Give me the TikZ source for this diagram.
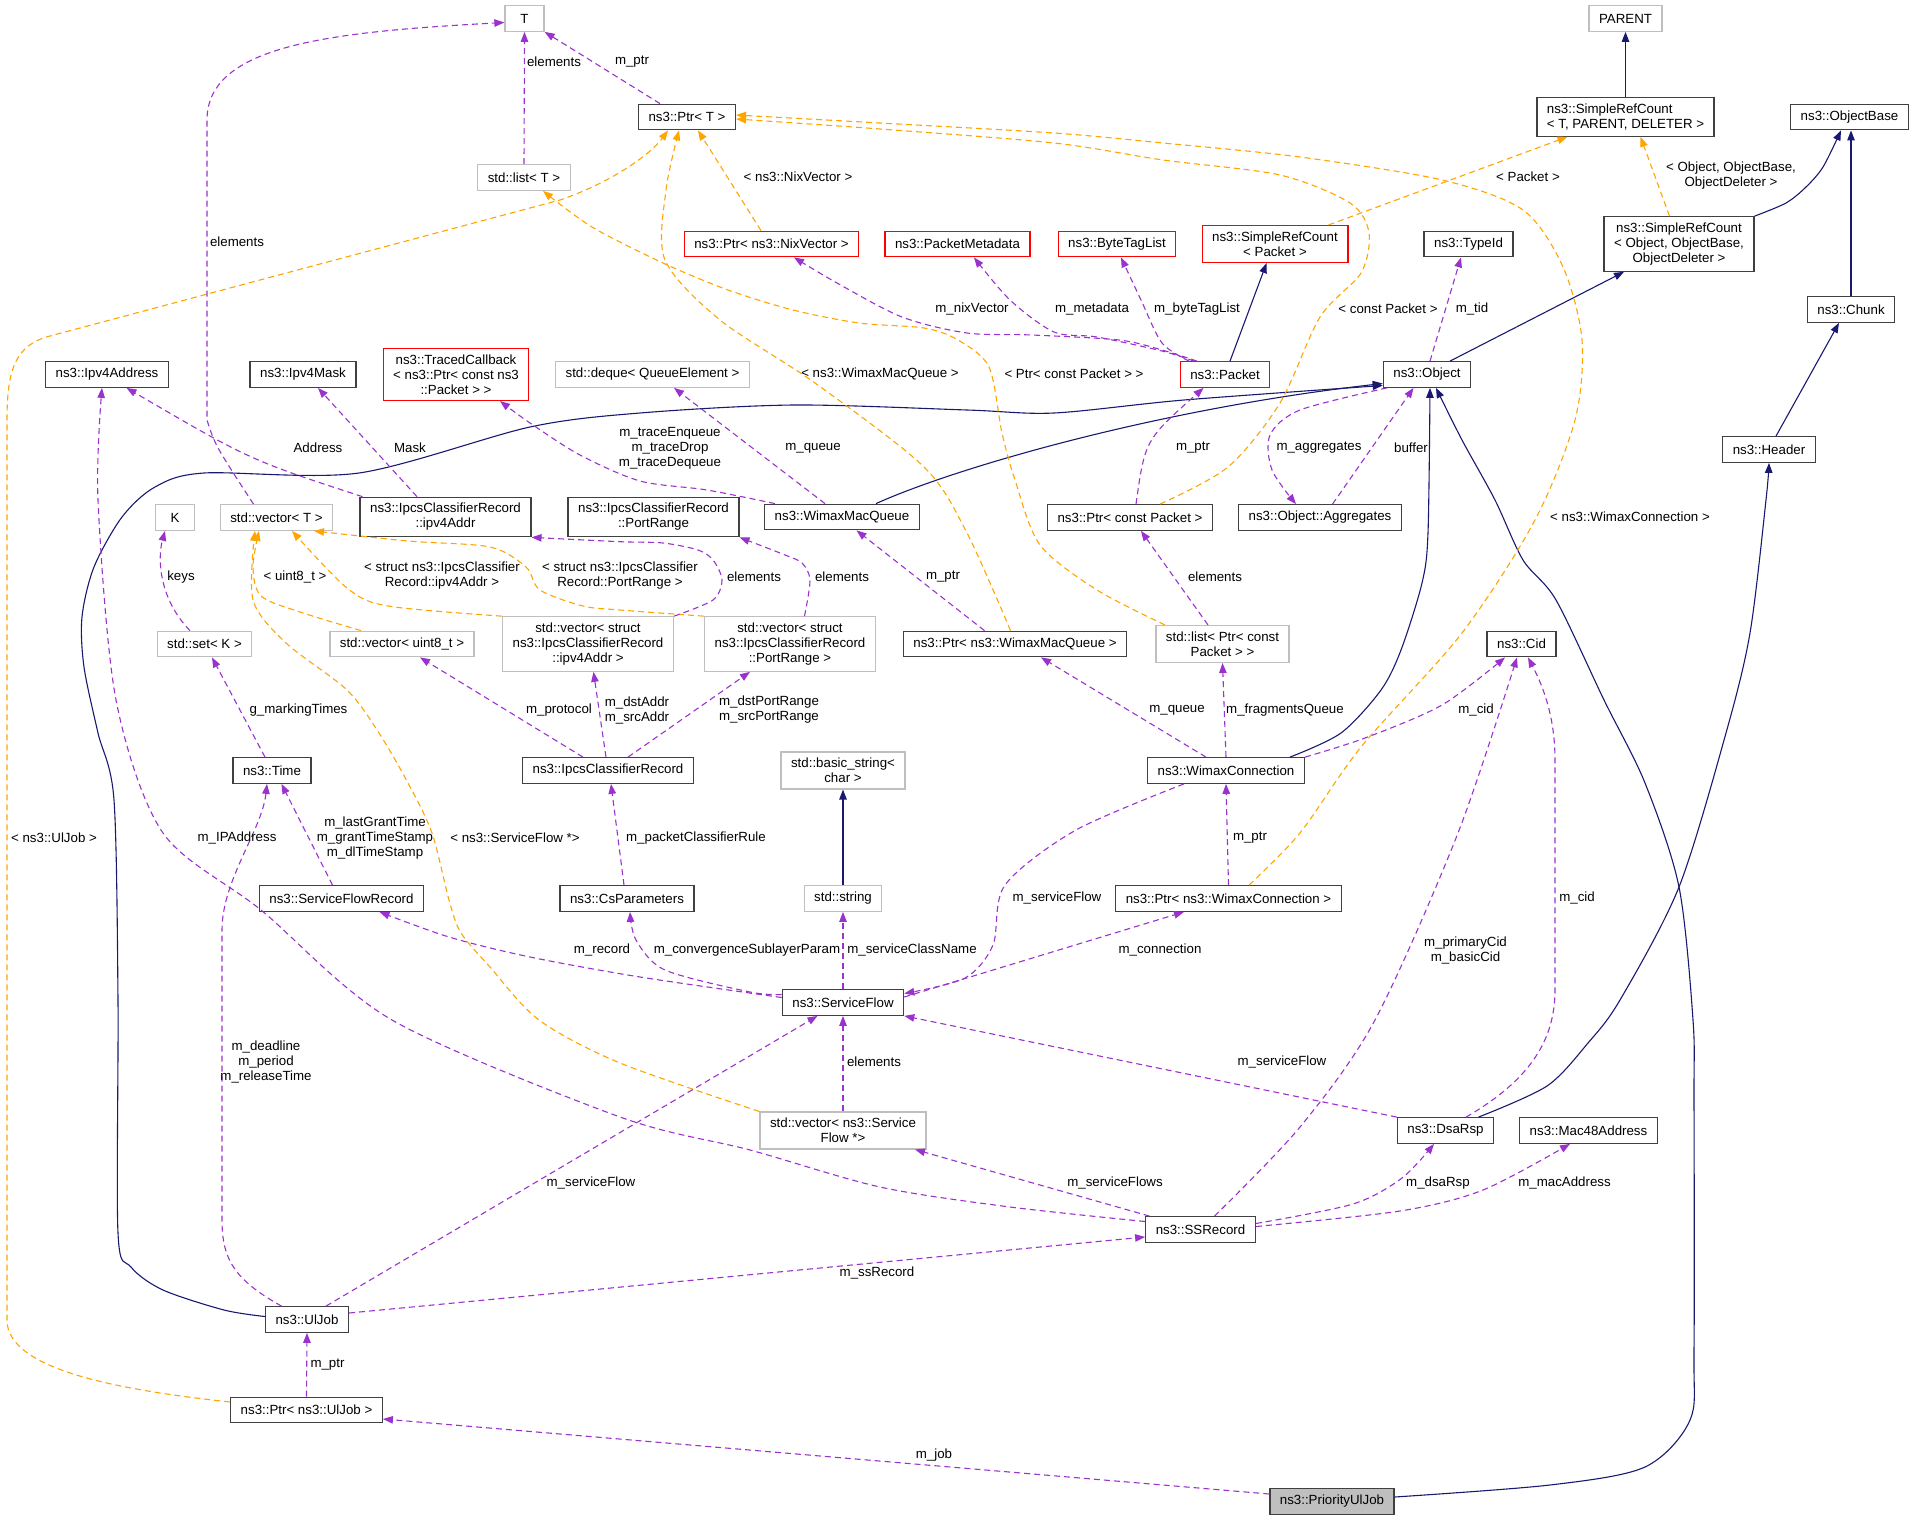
\documentclass[tikz,border=0pt]{standalone}
\usepackage{fontspec}
\setmainfont{Liberation Sans}
\usetikzlibrary{arrows.meta}
\definecolor{roxo}{HTML}{9A32CD}
\definecolor{laranja}{HTML}{FFA500}
\definecolor{azul}{HTML}{191970}
\definecolor{cinza}{HTML}{BFBFBF}
\definecolor{vermelho}{HTML}{FF0000}
\definecolor{borda}{HTML}{404040}
\newcommand\fonte{\fontsize{13.3}{15}\selectfont}
\tikzset{
  classe/.style={draw=borda, fill=white, line width=1.3pt, inner xsep=10pt, inner ysep=6pt,
    minimum height=25.5pt, minimum width=39pt, align=center, font=\fonte},
  externa/.style={classe, draw=cinza},
  incompleta/.style={classe, draw=vermelho},
  principal/.style={classe, fill=cinza},
  rotulo/.style={inner sep=0pt, align=center, font=\fonte},
  uso/.style={draw=roxo, line width=1.1pt, dash pattern=on 6pt off 4pt, -{Triangle[length=10pt,width=7.5pt]}},
  modelo/.style={uso, draw=laranja},
  heranca/.style={draw=azul, line width=1.1pt, -{Triangle[length=10pt,width=7.5pt]}}
}
\begin{document}
\begin{tikzpicture}[x=1pt,y=-1pt]
\useasboundingbox (0,0) rectangle (1915,1520);
%classes (de cima para baixo)
\node[externa] (tT) at (524.5,18.5) {T};
\node[externa] (parent) at (1625.5,18.5) {PARENT};
\node[classe] (ptrT) at (687,117) {ns3::Ptr< T >};
\node[classe, align=left] (srcT) at (1625.5,117) {ns3::SimpleRefCount\\< T, PARENT, DELETER >};
\node[classe] (objBase) at (1849.5,117) {ns3::ObjectBase};
\node[externa] (listT) at (524,177.5) {std::list< T >};
\node[incompleta] (ptrNix) at (771.5,244) {ns3::Ptr< ns3::NixVector >};
\node[incompleta] (pktMeta) at (957.5,244) {ns3::PacketMetadata};
\node[incompleta] (byteTag) at (1117,244) {ns3::ByteTagList};
\node[incompleta] (srcPkt) at (1275,244) {ns3::SimpleRefCount\\< Packet >};
\node[classe] (typeId) at (1468.5,244) {ns3::TypeId};
\node[classe] (srcObj) at (1679,244) {ns3::SimpleRefCount\\< Object, ObjectBase,\\ObjectDeleter >};
\node[classe] (chunk) at (1851,309.5) {ns3::Chunk};
\node[classe] (ipv4A) at (107,374.5) {ns3::Ipv4Address};
\node[classe] (ipv4M) at (303,374.5) {ns3::Ipv4Mask};
\node[incompleta] (traced) at (456,374.5) {ns3::TracedCallback\\< ns3::Ptr< const ns3\\::Packet > >};
\node[externa] (deque) at (652.5,374.5) {std::deque< QueueElement >};
\node[incompleta] (packet) at (1225,374.5) {ns3::Packet};
\node[classe] (object) at (1427,374.5) {ns3::Object};
\node[classe] (header) at (1769,449.5) {ns3::Header};
\node[externa] (kK) at (175,517.5) {K};
\node[externa] (vecT) at (276.5,517.5) {std::vector< T >};
\node[classe] (ipcsAddr) at (445.5,517) {ns3::IpcsClassifierRecord\\::ipv4Addr};
\node[classe] (ipcsPort) at (653.5,517) {ns3::IpcsClassifierRecord\\::PortRange};
\node[classe] (wmq) at (842,517) {ns3::WimaxMacQueue};
\node[classe] (ptrCPkt) at (1130,517.5) {ns3::Ptr< const Packet >};
\node[classe] (aggr) at (1320,517.5) {ns3::Object::Aggregates};
\node[externa] (setK) at (204.5,644) {std::set< K >};
\node[externa] (vecU8) at (402,644) {std::vector< uint8\_t >};
\node[externa] (vecAddr) at (588,644) {std::vector< struct\\ns3::IpcsClassifierRecord\\::ipv4Addr >};
\node[externa] (vecPort) at (790,644) {std::vector< struct\\ns3::IpcsClassifierRecord\\::PortRange >};
\node[classe] (ptrWmq) at (1015,644) {ns3::Ptr< ns3::WimaxMacQueue >};
\node[externa] (listPkt) at (1222.5,644) {std::list< Ptr< const\\Packet > >};
\node[classe] (cid) at (1521.5,644) {ns3::Cid};
\node[classe] (time) at (272,770.5) {ns3::Time};
\node[classe] (ipcs) at (608,770.5) {ns3::IpcsClassifierRecord};
\node[externa] (bstr) at (843,770.5) {std::basic\_string<\\char >};
\node[classe] (wcon) at (1226,770.5) {ns3::WimaxConnection};
\node[classe] (sfr) at (341.5,898.5) {ns3::ServiceFlowRecord};
\node[classe] (csp) at (627,898.5) {ns3::CsParameters};
\node[externa] (str) at (843,898.5) {std::string};
\node[classe] (ptrWcon) at (1228.5,898.5) {ns3::Ptr< ns3::WimaxConnection >};
\node[classe] (sflow) at (843,1002.5) {ns3::ServiceFlow};
\node[externa] (vecSf) at (843,1130.5) {std::vector< ns3::Service\\Flow *>};
\node[classe] (dsaRsp) at (1445.5,1130.5) {ns3::DsaRsp};
\node[classe] (mac48) at (1588.5,1130.5) {ns3::Mac48Address};
\node[classe] (ssrec) at (1200.5,1229.5) {ns3::SSRecord};
\node[classe] (uljob) at (307,1319.5) {ns3::UlJob};
\node[classe] (ptrUl) at (306.5,1410) {ns3::Ptr< ns3::UlJob >};
\node[principal] (prio) at (1332,1501.5) {ns3::PriorityUlJob};
%heranca (linhas cheias azuis)
\draw[heranca] (srcT.north) -- (parent.south);
\draw[heranca] plot[smooth] coordinates {(srcObj.north east) (1786,203) (1806,187) (1823,167) ([xshift=-8.5]objBase.south)};
\draw[heranca] (chunk.north) -- ([xshift=1.5]objBase.south);
\draw[heranca] ([xshift=7]header.north) -- ([xshift=-12]chunk.south);
\draw[heranca] plot[smooth] coordinates {([xshift=33]dsaRsp.north) (1547,1086) (1588,1043) (1620,1000) (1679,887) (1726,733) (1750,633) (1766,500) (header.south)};
\draw[heranca] plot[smooth] coordinates {([yshift=4.5]prio.east) (1550,1485) (1645,1467) (1690,1420) (1694,1350) (1694,1100) (1693,1020) (1679,887) (1645,783) (1604,700) (1556,600) (1523,560) (1495,500) (1462,440) ([xshift=9]object.south)};
\draw[heranca] plot[smooth] coordinates {([xshift=64]wcon.north) (1341,733) (1381,690) (1401,650) (1422,583) (1428,533) ([xshift=3]object.south)};
\draw[heranca] ([xshift=34]wmq.north) .. controls (950,470) and (1150,410) .. ([yshift=-9]object.west);
\draw[heranca] plot[smooth] coordinates {([yshift=3]uljob.west) (224,1310) (163,1290) (131,1267) (118,1233) (118,1000) (114,800) (98,733) (84,667) (82,617) (94,567) (122,517) (155,487) (204,473) (359,473) (530,427) (640,413) (794,405) (967,410) (1054,413) (1184,400) ([yshift=-11]object.west)};
\draw[heranca] ([xshift=23]object.north) -- ([xshift=-55]srcObj.south);
\draw[heranca] ([xshift=5]packet.north) -- ([xshift=-8.4]srcPkt.south);
\draw[heranca] (str.north) -- (bstr.south);
%instancias de modelo (tracejadas laranja)
\draw[modelo] ([xshift=-10.5]ptrNix.north) -- ([xshift=11]ptrT.south);
\draw[modelo] ([yshift=8]ptrUl.west) .. controls (120,1390) and (7,1370) .. (7,1320) -- (7,420) .. controls (7,370) and (15,345) .. (50,336) -- (560,200) .. controls (610,183) and (650,155) .. ([xshift=-19]ptrT.south);
\draw[modelo] plot[smooth] coordinates {([xshift=-4.5]ptrWmq.north) (967,533) (924,467) (815,383) (720,320) (665,260) (666,190) ([xshift=-8]ptrT.south)};
\draw[modelo] plot[smooth] coordinates {([xshift=30]ptrCPkt.north) (1228,467) (1280,403) (1320,317) (1361,273) (1369,233) (1350,203) (1280,175) (1163,160) (1054,143) (880,129) ([yshift=-2]ptrT.east)};
\draw[modelo] plot[smooth] coordinates {([xshift=20.5]ptrWcon.north) (1300,833) (1361,747) (1462,633) (1535,520) (1575,420) (1582,340) (1563,267) (1523,210) (1442,180) (1300,157) (1163,143) (1054,133) (880,123) ([yshift=2]ptrT.east)};
\draw[modelo] plot[smooth] coordinates {([xshift=-57.5]listPkt.north) (1097,590) (1040,545) (1015,480) (1002,433) (989,367) (958,340) (924,328) (859,323) (793,310) (728,290) (663,263) (592,227) ([xshift=19]listT.south)};
\draw[modelo] ([xshift=53.5]srcPkt.north) -- ([xshift=-58]srcT.south);
\draw[modelo] ([xshift=-9.5]srcObj.north) -- ([xshift=15]srcT.south);
\draw[modelo] plot[smooth] coordinates {([xshift=-41]vecU8.north) (300,612) (261,596) (253,567) ([xshift=-17.5]vecT.south)};
\draw[modelo] plot[smooth] coordinates {(vecAddr.north west) (388,606) (347,588) ([xshift=15.5]vecT.south)};
\draw[modelo] plot[smooth] coordinates {(vecPort.north west) (620,610) (583,606) (540,590) (526,567) (490,547) (408,541) ([xshift=37.5]vecT.south)};
\draw[modelo] plot[smooth] coordinates {(vecSf.north west) (620,1063) (539,1020) (490,967) (461,933) (449,900) (432,833) (408,783) (379,733) (347,690) (286,643) (253,600) ([xshift=-21.5]vecT.south)};
%membros (tracejadas roxas)
\draw[uso] (listT.north) -- (tT.south);
\draw[uso] ([xshift=-27]ptrT.north) -- (tT.south east);
\draw[uso] ([xshift=-23]vecT.north) .. controls (215,445) .. (207,420) -- (207,120) .. controls (207,45) and (330,32) .. ([yshift=-4]tT.west);
\draw[uso] ([xshift=-83]ipcsAddr.north) .. controls (250,460) .. ([xshift=19.5]ipv4A.south);
\draw[uso] plot[smooth] coordinates {([yshift=8]ssrec.west) (1010,1207) (880,1187) (750,1150) (620,1117) (392,1020) (261,910) (163,833) (116,700) (98,500) ([xshift=-5]ipv4A.south)};
\draw[uso] ([xshift=-28.5]ipcsAddr.north) -- ([xshift=15]ipv4M.south);
\draw[uso] plot[smooth] coordinates {([xshift=-67]wmq.north) (707,490) (640,481) (580,455) (530,423) ([xshift=44]traced.south)};
\draw[uso] ([xshift=-17]wmq.north) -- ([xshift=21.5]deque.south);
\draw[uso] plot[smooth] coordinates {([xshift=-28]packet.north) (1162,350) (1119,340) (1032,335) (967,333) (902,317) (837,283) ([xshift=22.5]ptrNix.south)};
\draw[uso] plot[smooth] coordinates {([xshift=-31]packet.north) (1162,351) (1097,337) (1054,332) (1010,300) ([xshift=16.5]pktMeta.south)};
\draw[uso] plot[smooth] coordinates {([xshift=-36]packet.north) (1162,343) (1141,300) ([xshift=4]byteTag.south)};
\draw[uso] ([xshift=6]ptrCPkt.north) .. controls (1145,440) .. ([xshift=-21.5]packet.south);
\draw[uso] ([xshift=12.5]aggr.north) -- ([xshift=-13.5]object.south);
\draw[uso] plot[smooth] coordinates {([xshift=-40]object.south) (1300,410) (1270,435) (1272,470) ([xshift=-24]aggr.north)};
\draw[uso] ([xshift=3]object.north) -- ([xshift=-7.5]typeId.south);
\draw[uso] ([xshift=-30.5]ptrWmq.north) -- ([xshift=14.5]wmq.south);
\draw[uso] ([xshift=-14.5]listPkt.north) -- ([xshift=11]ptrCPkt.south);
\draw[uso] ([xshift=-14.5]setK.north) .. controls (160,600) and (157,560) .. ([xshift=-10]kK.south);
\draw[uso] plot[smooth] coordinates {(vecAddr.north east) (713,600) (722,580) (713,560) (698,550) (663,543) (620,541.7) (ipcsAddr.south east)};
\draw[uso] plot[smooth] coordinates {([xshift=14.5]vecPort.north) (810,580) (802,563) (785,555) (ipcsPort.south east)};
\draw[uso] ([xshift=-7]time.north) -- ([xshift=7.5]setK.south);
\draw[uso] ([xshift=-25]ipcs.north) -- ([xshift=18]vecU8.south);
\draw[uso] ([xshift=-2]ipcs.north) -- ([xshift=5.5]vecAddr.south);
\draw[uso] ([xshift=20]ipcs.north) -- ([xshift=-40]vecPort.south);
\draw[uso] ([xshift=-9]sfr.north) -- ([xshift=9.5]time.south);
\draw[uso] ([xshift=-25.5]uljob.north) .. controls (235,1280) and (222,1260) .. (222,1220) -- (222,930) .. controls (222,880) and (262,830) .. ([xshift=-5]time.south);
\draw[uso] ([xshift=-3]csp.north) -- ([xshift=3]ipcs.south);
\draw[uso] (ptrWcon.north) -- (wcon.south);
\draw[uso] (wcon.north) -- (listPkt.south);
\draw[uso] ([xshift=-20]wcon.north) -- ([xshift=26]ptrWmq.south);
\draw[uso] plot[smooth] coordinates {(wcon.north east) (1365,738) (1442,705) ([xshift=-16.5]cid.south)};
\draw[uso] plot[smooth] coordinates {([xshift=14]ssrec.north) (1300,1127) (1375,1020) (1458,833) ([xshift=-4.5]cid.south)};
\draw[uso] ([xshift=20.5]dsaRsp.north) .. controls (1530,1080) and (1555,1040) .. (1555,990) -- (1555,760) .. controls (1555,720) and (1545,690) .. ([xshift=6.5]cid.south);
\draw[uso] plot[smooth] coordinates {([yshift=5]sflow.west) (640,977) (530,957) (449,937) ([xshift=38]sfr.south)};
\draw[uso] plot[smooth] coordinates {([yshift=8]sflow.west) (750,992) (665,970) (636,940) ([xshift=3]csp.south)};
\draw[uso] (sflow.north) -- (str.south);
\draw[uso] plot[smooth] coordinates {([xshift=-42]wcon.south) (1076,830) (1005,885) (993,945) (965,978) ([yshift=9]sflow.east)};
\draw[uso] ([yshift=5.5]sflow.east) -- ([xshift=-44.5]ptrWcon.south);
\draw[uso] (dsaRsp.north west) -- (sflow.south east);
\draw[uso] (vecSf.north) -- (sflow.south);
\draw[uso] ([xshift=19]uljob.north) -- ([xshift=-25.5]sflow.south);
\draw[uso] ([xshift=-51]ssrec.north) -- ([xshift=72]vecSf.south);
\draw[uso] plot[smooth] coordinates {([yshift=6]ssrec.east) (1353,1204) (1402,1178) ([xshift=-11.5]dsaRsp.south)};
\draw[uso] plot[smooth] coordinates {([yshift=3]ssrec.east) (1400,1211) (1483,1190) ([xshift=-18.5]mac48.south)};
\draw[uso] ([yshift=6.5]uljob.east) -- ([yshift=-7.5]ssrec.west);
\draw[uso] (ptrUl.north) -- (uljob.south);
\draw[uso] ([yshift=7.5]prio.west) -- ([yshift=-9]ptrUl.east);
%rotulos das arestas
\node[rotulo] (rElemT) at (554,62) {elements};
\node[rotulo] (rPtrT) at (632,62) {m\_ptr};
\node[rotulo] (rElemVec) at (237,242) {elements};
\node[rotulo] (rAddress) at (318,448) {Address};
\node[rotulo] (rIPAddr) at (237,838) {m\_IPAddress};
\node[rotulo] (rMask) at (410,448) {Mask};
\node[rotulo] (rTrace) at (670,448) {m\_traceEnqueue\\m\_traceDrop\\m\_traceDequeue};
\node[rotulo] (rQueue) at (813,448) {m\_queue};
\node[rotulo] (rNix) at (972,309) {m\_nixVector};
\node[rotulo] (rMeta) at (1092,309) {m\_metadata};
\node[rotulo] (rTag) at (1197,309) {m\_byteTagList};
\node[rotulo] (rPtrPkt) at (1193,448) {m\_ptr};
\node[rotulo] (rBuffer) at (1411,448) {buffer};
\node[rotulo] (rAggr) at (1319,448) {m\_aggregates};
\node[rotulo] (rTid) at (1472,309) {m\_tid};
\node[rotulo] (rPtrWmq) at (943,577) {m\_ptr};
\node[rotulo] (rElemPkt) at (1215,577) {elements};
\node[rotulo] (rKeys) at (181,577) {keys};
\node[rotulo] (rElemAddr) at (754,577) {elements};
\node[rotulo] (rElemPort) at (842,577) {elements};
\node[rotulo] (rMarking) at (298.5,710) {g\_markingTimes};
\node[rotulo] (rProtocol) at (559,710) {m\_protocol};
\node[rotulo] (rDstAddr) at (637,710) {m\_dstAddr\\m\_srcAddr};
\node[rotulo] (rDstPort) at (769,710) {m\_dstPortRange\\m\_srcPortRange};
\node[rotulo] (rGrant) at (375,838) {m\_lastGrantTime\\m\_grantTimeStamp\\m\_dlTimeStamp};
\node[rotulo] (rDeadline) at (266,1062) {m\_deadline\\m\_period\\m\_releaseTime};
\node[rotulo] (rRule) at (696,838) {m\_packetClassifierRule};
\node[rotulo] (rPtrWcon) at (1250,838) {m\_ptr};
\node[rotulo] (rFrag) at (1285,710) {m\_fragmentsQueue};
\node[rotulo] (rQueueW) at (1177,710) {m\_queue};
\node[rotulo] (rCidW) at (1476,710) {m\_cid};
\node[rotulo] (rPrimary) at (1465.5,950) {m\_primaryCid\\m\_basicCid};
\node[rotulo] (rCidD) at (1577,898) {m\_cid};
\node[rotulo] (rRecord) at (602,950) {m\_record};
\node[rotulo] (rConv) at (747,950) {m\_convergenceSublayerParam};
\node[rotulo] (rClass) at (912,950) {m\_serviceClassName};
\node[rotulo] (rSfW) at (1057,898) {m\_serviceFlow};
\node[rotulo] (rConn) at (1160,950) {m\_connection};
\node[rotulo] (rSfD) at (1282,1062) {m\_serviceFlow};
\node[rotulo] (rElemSf) at (874,1062) {elements};
\node[rotulo] (rSfU) at (591,1183) {m\_serviceFlow};
\node[rotulo] (rSfs) at (1115,1183) {m\_serviceFlows};
\node[rotulo] (rDsa) at (1438,1183) {m\_dsaRsp};
\node[rotulo] (rMac) at (1564.5,1183) {m\_macAddress};
\node[rotulo] (rSs) at (877,1273) {m\_ssRecord};
\node[rotulo] (rPtrUl) at (327.5,1365) {m\_ptr};
\node[rotulo] (rJob) at (934,1455) {m\_job};
\node[rotulo] (rNixT) at (798,177) {< ns3::NixVector >};
\node[rotulo] (rUlT) at (54,838) {< ns3::UlJob >};
\node[rotulo] (rWmqT) at (880,374) {< ns3::WimaxMacQueue >};
\node[rotulo] (rCPktT) at (1388,309) {< const Packet >};
\node[rotulo] (rWconT) at (1630,517) {< ns3::WimaxConnection >};
\node[rotulo] (rListT) at (1074,374) {< Ptr< const Packet > >};
\node[rotulo] (rPktT) at (1528,177) {< Packet >};
\node[rotulo] (rObjT) at (1731,175.5) {< Object, ObjectBase,\\ObjectDeleter >};
\node[rotulo] (rU8T) at (295,577) {< uint8\_t >};
\node[rotulo] (rAddrT) at (442,576) {< struct ns3::IpcsClassifier\\Record::ipv4Addr >};
\node[rotulo] (rPortT) at (620,576) {< struct ns3::IpcsClassifier\\Record::PortRange >};
\node[rotulo] (rSfT) at (515,838) {< ns3::ServiceFlow *>};
\end{tikzpicture}
\end{document}
